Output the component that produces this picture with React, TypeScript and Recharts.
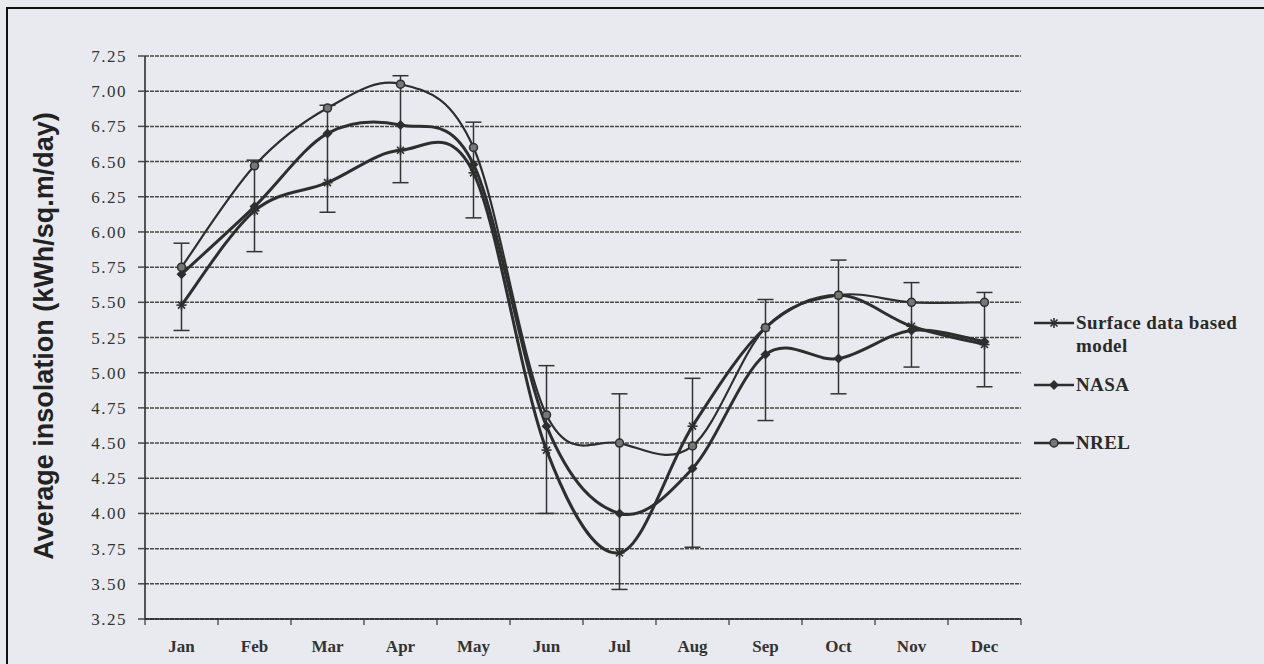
import React from 'react';
import { LineChart, Line, XAxis, YAxis, CartesianGrid, ErrorBar } from 'recharts';

const months = ['Jan', 'Feb', 'Mar', 'Apr', 'May', 'Jun', 'Jul', 'Aug', 'Sep', 'Oct', 'Nov', 'Dec'];
const surfaceModel = [5.48, 6.15, 6.35, 6.58, 6.42, 4.45, 3.72, 4.62, 5.32, 5.55, 5.33, 5.2];
const nasa = [5.7, 6.18, 6.7, 6.76, 6.48, 4.62, 4.0, 4.32, 5.13, 5.1, 5.3, 5.22];
const nrel = [5.75, 6.47, 6.88, 7.05, 6.6, 4.7, 4.5, 4.48, 5.32, 5.55, 5.5, 5.5];
const errLow = [5.3, 5.86, 6.14, 6.35, 6.1, 4.0, 3.46, 3.76, 4.66, 4.85, 5.04, 4.9];
const errHigh = [5.92, 6.51, 6.9, 7.11, 6.78, 5.05, 4.85, 4.96, 5.52, 5.8, 5.64, 5.57];
const yTicks = [3.25, 3.5, 3.75, 4.0, 4.25, 4.5, 4.75, 5.0, 5.25, 5.5, 5.75, 6.0, 6.25, 6.5, 6.75, 7.0, 7.25];
const seriesNames = ['Surface data based model', 'NASA', 'NREL'];

const data = months.map((m, i) => ({
  month: m,
  surface: surfaceModel[i],
  nasa: nasa[i],
  nrel: nrel[i],
  err: [nrel[i] - errLow[i], errHigh[i] - nrel[i]],
}));

// Catmull-Rom style smoothing (like spreadsheet "smoothed line")
const smoothCurve: any = (context: any) => {
  let pts: number[][] = [];
  return {
    areaStart() {},
    areaEnd() {},
    lineStart() { pts = []; },
    point(x: number, y: number) { pts.push([+x, +y]); },
    lineEnd() {
      const n = pts.length;
      if (!n) return;
      context.moveTo(pts[0][0], pts[0][1]);
      for (let i = 0; i < n - 1; i++) {
        const p0 = pts[Math.max(i - 1, 0)];
        const p1 = pts[i];
        const p2 = pts[i + 1];
        const p3 = pts[Math.min(i + 2, n - 1)];
        const c1x = p1[0] + (p2[0] - p0[0]) / 6;
        const c1y = p1[1] + (p2[1] - p0[1]) / 6;
        const c2x = p2[0] - (p3[0] - p1[0]) / 6;
        const c2y = p2[1] - (p3[1] - p1[1]) / 6;
        context.bezierCurveTo(c1x, c1y, c2x, c2y, p2[0], p2[1]);
      }
    },
  };
};

const INK = '#2e2e2e';

const Star = ({ cx, cy, size = 5 }: any) => (
  <g stroke={INK} strokeWidth={1.6}>
    <line x1={cx - size} y1={cy} x2={cx + size} y2={cy} />
    <line x1={cx} y1={cy - size} x2={cx} y2={cy + size} />
    <line x1={cx - size * 0.7} y1={cy - size * 0.7} x2={cx + size * 0.7} y2={cy + size * 0.7} />
    <line x1={cx - size * 0.7} y1={cy + size * 0.7} x2={cx + size * 0.7} y2={cy - size * 0.7} />
  </g>
);
const Diamond = ({ cx, cy, size = 5 }: any) => (
  <path d={`M${cx},${cy - size}L${cx + size},${cy}L${cx},${cy + size}L${cx - size},${cy}Z`} fill={INK} />
);
const Circle = ({ cx, cy, size = 4 }: any) => (
  <circle cx={cx} cy={cy} r={size} fill="#777" stroke={INK} strokeWidth={1.5} />
);

const markerFor = (i: number, cx: number, cy: number) =>
  i === 0 ? <Star cx={cx} cy={cy} /> : i === 1 ? <Diamond cx={cx} cy={cy} /> : <Circle cx={cx} cy={cy} />;

const XTick = (props: any) => {
  const { x, y, payload, index } = props;
  const off = payload && payload.offset ? payload.offset : 36.5;
  return (
    <g>
      <line x1={x - off} y1={y} x2={x - off} y2={y + 6} stroke="#333" strokeWidth={1.2} />
      {index === months.length - 1 && (
        <line x1={x + off} y1={y} x2={x + off} y2={y + 6} stroke="#333" strokeWidth={1.2} />
      )}
      <text x={x} y={y + 33} textAnchor="middle" fontFamily="Liberation Serif" fontWeight="bold"
        fontSize={17} fill="#333">{payload.value}</text>
    </g>
  );
};

const legendTops = [314, 376, 434];

const ChartLegend = () => (
  <div style={{ position: 'absolute', left: 1032, top: 0, width: 232 }}>
    {seriesNames.map((name, i) => (
      <div key={name} style={{ position: 'absolute', left: 0, top: legendTops[i], display: 'flex', alignItems: 'flex-start' }}>
        <svg width={44} height={18} style={{ flex: 'none' }}>
          <line x1={2} y1={9} x2={42} y2={9} stroke={INK} strokeWidth={2.5} />
          {markerFor(i, 22, 9)}
        </svg>
        <div style={{ fontFamily: 'Liberation Serif', fontWeight: 'bold', fontSize: 19, letterSpacing: 0.4, color: '#2a2a2a', lineHeight: '23px', width: 186, marginTop: -3 }}>
          {name === 'Surface data based model' ? (<>Surface data based<br />model</>) : name}
        </div>
      </div>
    ))}
  </div>
);

export default function App() {
  return (
    <div style={{ position: 'absolute', left: 0, top: 0, width: 1264, height: 664, background: '#e8eaef', overflow: 'hidden' }}>
      <div style={{ position: 'absolute', left: 6, top: 7, width: 1300, height: 700, borderTop: '2px solid #111', borderLeft: '2px solid #111' }} />
      <div style={{ position: 'absolute', left: 0, top: 0 }}>
        <LineChart width={1264} height={664} data={data} margin={{ top: 56, right: 243, bottom: 0, left: 0 }}>
          <CartesianGrid horizontal vertical={false} stroke="#484848" strokeWidth={1.5} strokeDasharray="4 1" />
          <XAxis dataKey="month" scale="band" interval={0} height={45} tickLine={false} tickSize={0} tickMargin={0}
            axisLine={{ stroke: '#222', strokeWidth: 1.5 }} tick={<XTick />} />
          <YAxis type="number" domain={[3.25, 7.25]} ticks={yTicks} allowDataOverflow width={145}
            tickFormatter={(v: number) => v.toFixed(2)} tickSize={7} tickMargin={11}
            tickLine={{ stroke: '#484848', strokeWidth: 1.5 }} axisLine={{ stroke: '#222', strokeWidth: 1.5 }}
            tick={{ fontFamily: 'Liberation Serif', fontSize: 17, fill: '#333', letterSpacing: 1.5 }}
            label={{
              content: () => (
                <text transform="translate(53,336) rotate(-90)" textAnchor="middle" fontFamily="Liberation Sans"
                  fontWeight="bold" fontSize={27} fill="#222">Average insolation (kWh/sq.m/day)</text>
              ),
            }} />
          <Line dataKey="surface" name={seriesNames[0]} type={smoothCurve} stroke={INK} strokeWidth={3}
            isAnimationActive={false} dot={(p: any) => <Star key={'s' + p.index} cx={p.cx} cy={p.cy} />} />
          <Line dataKey="nasa" name={seriesNames[1]} type={smoothCurve} stroke={INK} strokeWidth={3}
            isAnimationActive={false} dot={(p: any) => <Diamond key={'n' + p.index} cx={p.cx} cy={p.cy} />} />
          <Line dataKey="nrel" name={seriesNames[2]} type={smoothCurve} stroke={INK} strokeWidth={2.2}
            isAnimationActive={false} dot={(p: any) => <Circle key={'r' + p.index} cx={p.cx} cy={p.cy} />}>
            <ErrorBar dataKey="err" direction="y" width={8} stroke="#333" strokeWidth={1.5} />
          </Line>
        </LineChart>
      </div>
      <ChartLegend />
    </div>
  );
}
